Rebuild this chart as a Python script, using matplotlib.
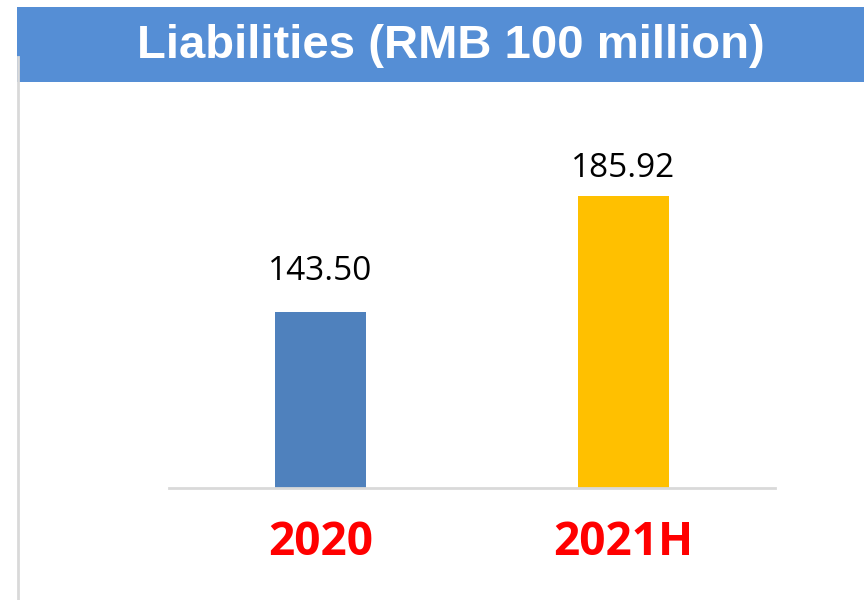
import matplotlib
matplotlib.use("Agg")
import matplotlib.pyplot as plt
from matplotlib.patches import Rectangle
from matplotlib.lines import Line2D

# chart data
categories = ["2020", "2021H"]
liabilities = [143.50, 185.92]
bar_colors = ["#4F81BD", "#FFC000"]
title_text = "Liabilities (RMB 100 million)"

W, H = 864, 600
fig = plt.figure(figsize=(W / 100, H / 100), dpi=100)
fig.patch.set_facecolor("white")

# blue title banner
fig.patches.append(Rectangle((17 / W, 1 - 82 / H), 1 - 17 / W, 75 / H,
                             transform=fig.transFigure, facecolor="#558ED5",
                             edgecolor="none", zorder=0))
fig.text(451 / W, 1 - 46 / H, title_text, color="white", fontsize=34,
         fontweight="bold", family="Liberation Sans", ha="center", va="center")

# thin grey frame line on the left
fig.lines.append(Line2D([17.5 / W, 17.5 / W], [0, 1 - 57 / H],
                        transform=fig.transFigure, color="#D9D9D9", lw=2))

# plot area
ax = fig.add_axes([169 / W, 112 / H, 606 / W, 388 / H])
ax.bar(range(len(categories)), liabilities, width=0.30, color=bar_colors,
       zorder=2)
ax.set_xlim(-0.5, len(categories) - 0.5)
ax.set_ylim(79, 220.9)

for s in ["top", "right", "left"]:
    ax.spines[s].set_visible(False)
ax.spines["bottom"].set_color("#D9D9D9")
ax.spines["bottom"].set_linewidth(2)
ax.set_yticks([])
ax.set_xticks(range(len(categories)))
ax.set_xticklabels(categories, color="#FF0000", fontsize=33,
                   fontweight="bold", family="Open Sans")
ax.tick_params(axis="x", length=0, pad=22)

label_pad = [32, 19]
for i, v in enumerate(liabilities):
    ax.annotate(f"{v:.2f}", (i, v), xytext=(0, label_pad[i] * 0.72),
                textcoords="offset points", ha="center", va="baseline",
                fontsize=24, family="Open Sans", color="black")

plt.savefig("out.png", dpi=100)
